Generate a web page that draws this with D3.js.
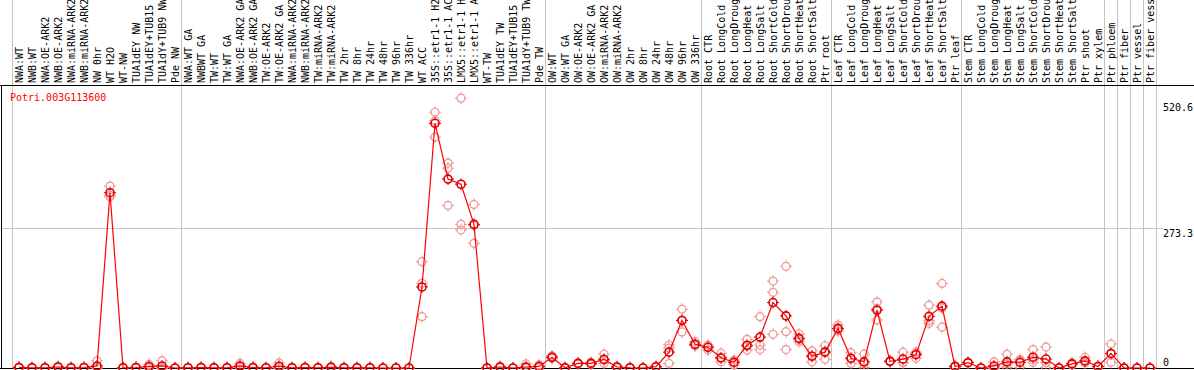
<!DOCTYPE html>
<html>
<head>
<meta charset="utf-8">
<script src="https://cdn.jsdelivr.net/npm/d3@7"></script>
<style>
  html, body { margin: 0; padding: 0; background: #fff; overflow: hidden; }
  svg { display: block; }
  text { font-family: "DejaVu Sans Mono", "Liberation Mono", monospace; font-size: 10px; }
</style>
</head>
<body>
<svg id="chart" width="1194" height="370"></svg>
<script>
const geneId = "Potri.003G113600";

const labels = [
  "NWA:WT","NWB:WT","NWA:OE-ARK2","NWB:OE-ARK2","NWA:miRNA-ARK2","NWB:miRNA-ARK2","NW 0hr","WT H2O","WT-NW",
  "TUA1dEY NW","TUA1dEY+TUB15","TUA1dY+TUB9 NW","Pde NW",
  "NWA:WT GA","NWBWT GA","TW:WT","TW:WT GA","NWA:OE-ARK2 GA","NWB:OE-ARK2 GA","TW:OE-ARK2","TW:OE-ARK2 GA",
  "NWA:miRNA-ARK2","NWB:miRNA-ARK2","TW:miRNA-ARK2","TW:miRNA-ARK2","TW 2hr","TW 8hr","TW 24hr","TW 48hr","TW 96hr","TW 336hr",
  "WT ACC","35S::etr1-1 H2","35S::etr1-1 AC","LMX5::etr1-1 H","LMX5::etr1-1 A","WT-TW","TUA1dEY TW","TUA1dEY+TUB15","TUA1dY+TUB9 TW","Pde TW",
  "OW:WT","OW:WT GA","OW:OE-ARK2","OW:OE-ARK2 GA","OW:miRNA-ARK2","OW:miRNA-ARK2","OW 2hr","OW 8hr","OW 24hr","OW 48hr","OW 96hr","OW 336hr",
  "Root CTR","Root LongCold","Root LongDroug","Root LongHeat","Root LongSalt","Root ShortCold","Root ShortDrou","Root ShortHeat","Root ShortSalt","Ptr root",
  "Leaf CTR","Leaf LongCold","Leaf LongDroug","Leaf LongHeat","Leaf LongSalt","Leaf ShortCold","Leaf ShortDrou","Leaf ShortHeat","Leaf ShortSalt","Ptr leaf",
  "Stem CTR","Stem LongCold","Stem LongDroug","Stem LongHeat","Stem LongSalt","Stem ShortCold","Stem ShortDrou","Stem ShortHeat","Stem ShortSalt","Ptr shoot","Ptr xylem",
  "Ptr phloem","Ptr fiber","Ptr vessel","Ptr fiber vess"
];

const means = [
  1,0.5,0.5,2,0.5,1,4,343,0.5,1,3,4,0,
  0.5,1,0.5,0.5,4,1,0.5,3.5,0.5,1,0.5,1.5,0.5,0.5,0.5,0,0,0,
  158.5,478.7,369.6,359.5,281,0,2,0,2,3,
  21,0.5,9,9,17,2,0.5,0,2.5,31,93,46.5,
  40.5,20,11,44.5,60.5,128,102,58,23,31,
  77.5,19,12,113,13,17.5,26,101,121,3,
  10.5,0,4,12,11,21,17.5,0,8,14,3,
  28.5,0,0,0
];
const rep1 = [
  2,0.5,1,3,0.5,1.5,14,356,0.5,1.5,7,14,0,
  0.5,1.5,1,0.5,9,1.5,0.5,10,1,1.5,0.5,3,0.5,1,0.5,0,0,0,
  208,500.4,401,527.8,320,0,3,0,8,6,
  24,1,10,11,27,3,0.5,0,3,45,115,51.5,
  45,29,15.5,56,100.5,170,199,66.5,33.5,43.5,
  84,30,27,129,14,31,31,123,165.5,4.5,
  11,0,12,27,15.5,36,41,0,10,21,3.5,
  47,0,0,0
];
const rep2 = [
  0.5,0.5,0,2,0.5,1,1,335,0.5,1,1,0,0,
  0.5,1,0,0.5,2,1,0.5,0.5,0,1,0.5,1,0.5,0,0.5,0,0,0,
  165.6,483.8,390.9,281,244,0,2,0,0,2,
  20,0.5,9,9,9,2,0.5,0,2,9,70.5,43.5,
  35,12,6,35,45,148,71,51.5,12,17,
  72.5,9,1,94,12,11,19,87.5,80,2.5,
  10,0,0,1,1,11,1,0,8,10,3,
  11,0,0,0
];
const rep3 = [
  0.5,0.5,0.5,1,0.5,0.5,0,338,0.5,0.5,1,0,0,
  0.5,0.5,0.5,0.5,1,0.5,0.5,0,0.5,0.5,0.5,0.5,0.5,0.5,0.5,0,0,0,
  100.5,451.5,318,270,279,0,1,0,0,1,
  19,0,8,7,15,1,0.5,0,2.5,39,93.5,44.5,
  41.5,19,11.5,42.5,36,66,36,56,23.5,32.5,
  76,18,8,116,13,10.5,28,92.5,117.5,2,
  10.5,0,0,8,16.5,16,10.5,0,6,11,2.5,
  27.5,0,0,0
];

const yTicks = [0, 273.3, 520.6];
const groupEnds = [0, 13, 41, 53, 63, 73, 84, 85, 86, 87, 88];

const W = 1194, H = 370;
const svg = d3.select("#chart");

const x = d3.scaleLinear().domain([0, labels.length - 1]).range([19, 19 + 13 * (labels.length - 1)]);
const y = d3.scaleLinear().domain([0, 520.6]).range([368, 101.9]);
const crisp = v => Math.round(v) + 0.5;
const grey = "#c4c4c4";

// vertical group separators
svg.append("g").selectAll("line").data(groupEnds).join("line")
  .attr("x1", d => crisp(x(d - 0.5) - 1)).attr("x2", d => crisp(x(d - 0.5) - 1))
  .attr("y1", 0).attr("y2", 369)
  .attr("stroke", grey).attr("stroke-width", 1);

// horizontal gridlines
svg.append("g").selectAll("line").data(yTicks.filter(t => t > 0 && t < 520)).join("line")
  .attr("x1", 1).attr("x2", 1163)
  .attr("y1", d => crisp(y(d))).attr("y2", d => crisp(y(d)))
  .attr("stroke", grey).attr("stroke-width", 1);

// frame lines
svg.append("line").attr("x1", 0).attr("x2", W).attr("y1", 85.5).attr("y2", 85.5).attr("stroke", "#000");
svg.append("line").attr("x1", 0).attr("x2", W).attr("y1", 368.5).attr("y2", 368.5).attr("stroke", "#000");
svg.append("line").attr("x1", 1.5).attr("x2", 1.5).attr("y1", 85).attr("y2", 369).attr("stroke", "#000");

// column labels
svg.append("g").selectAll("text").data(labels).join("text")
  .attr("transform", (d, i) => `translate(${x(i) + 3.5},83) rotate(-90)`)
  .attr("text-anchor", "start")
  .attr("fill", "#000")
  .text(d => d);

// y labels
svg.append("g").selectAll("text").data(yTicks).join("text")
  .attr("x", 1163)
  .attr("y", d => d === 0 ? y(d) - 2 : y(d) + 9)
  .attr("fill", "#000")
  .text(d => d === 0 ? "0" : d3.format(".1f")(d));

// gene id
svg.append("text").attr("x", 10).attr("y", 101).attr("fill", "#ff0000").text(geneId);

function marker(sel, color, sw) {
  sel.append("circle").attr("r", 4).attr("fill", "none").attr("stroke", color).attr("stroke-width", sw);
  [[0,-1],[0,1],[-1,0],[1,0]].forEach(([dx, dy]) => {
    sel.append("line")
      .attr("x1", dx * 3).attr("y1", dy * 3)
      .attr("x2", dx * 6).attr("y2", dy * 6)
      .attr("stroke", color).attr("stroke-width", 1);
  });
}

const plot = svg.append("g");
const reps = [];
[rep1, rep2, rep3].forEach(arr => arr.forEach((v, i) => reps.push({ i, v })));
plot.append("g").selectAll("g").data(reps).join("g")
  .attr("transform", d => `translate(${x(d.i)},${y(d.v)})`)
  .each(function () { marker(d3.select(this), "#ee9a9a", 1.2); });

plot.append("path")
  .datum(means)
  .attr("fill", "none").attr("stroke", "#ff0000").attr("stroke-width", 1.2)
  .attr("d", d3.line().x((d, i) => x(i)).y(d => y(d)));

plot.append("g").selectAll("g").data(means).join("g")
  .attr("transform", (d, i) => `translate(${x(i)},${y(d)})`)
  .each(function () { marker(d3.select(this), "#e00000", 1.6); });
</script>
</body>
</html>
